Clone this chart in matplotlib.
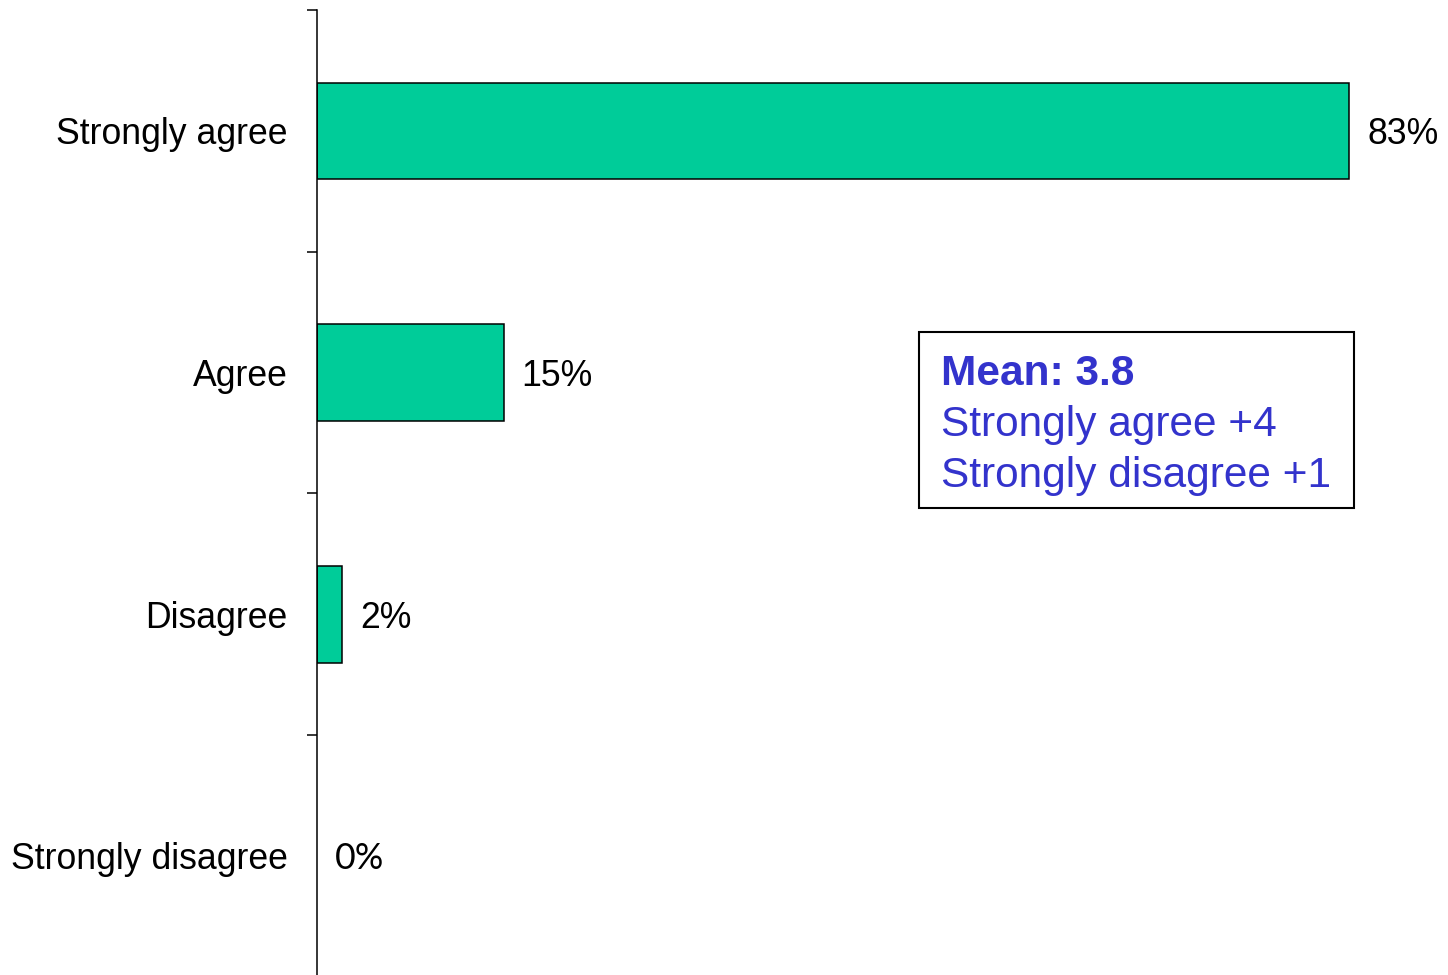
import matplotlib
matplotlib.use("Agg")
import matplotlib.pyplot as plt
from matplotlib.patches import Rectangle

categories = ["Strongly agree", "Agree", "Disagree", "Strongly disagree"]
values = [83, 15, 2, 0]
value_labels = ["83%", "15%", "2%", "0%"]
box_lines = ["Mean: 3.8", "Strongly agree +4", "Strongly disagree +1"]

BAR_COLOR = "#00CC99"
BLUE = "#3333CC"
FONT = "Liberation Sans"

W, H = 1448, 975
fig = plt.figure(figsize=(W / 100, H / 100), dpi=100)
ax = fig.add_axes([317 / W, (H - 976.7) / H, 1119 / W, 966.7 / H])

pos = list(range(len(categories)))
bars = ax.barh(pos, values, height=0.40, color=BAR_COLOR, edgecolor="black", linewidth=1.1)
for b, v in zip(bars, values):
    if v == 0:
        b.set_linewidth(0)
ax.set_ylim(len(categories) - 0.5, -0.5)
ax.set_xlim(0, 90)

# boundary ticks (major) and centred labels (minor)
ax.set_yticks([i - 0.5 for i in range(len(categories) + 1)])
ax.set_yticklabels([])
ax.set_yticks(pos, minor=True)
ax.set_yticklabels(categories, minor=True, fontsize=25.7, fontfamily=FONT)
ax.tick_params(axis="y", which="major", length=7.2, width=1.1, direction="out")
ax.tick_params(axis="y", which="minor", length=0, pad=21)
ax.set_xticks([])
for s in ["top", "right", "bottom"]:
    ax.spines[s].set_visible(False)
ax.spines["left"].set_linewidth(1.1)

for p, v, lab in zip(pos, values, value_labels):
    fam = ["Lato", FONT] if v == 0 else FONT
    ax.annotate(lab, xy=(v, p), xytext=(13, 0), textcoords="offset points",
                ha="left", va="center_baseline", fontsize=25.7, family=fam)

# mean box
x0, x1 = 919 / W, 1354 / W
y0, y1 = 1 - 508 / H, 1 - 332 / H
fig.add_artist(Rectangle((x0, y0), x1 - x0, y1 - y0, transform=fig.transFigure,
                         facecolor="white", edgecolor="black", linewidth=1.5))
baselines = [385, 436, 487]
for i, (line, b) in enumerate(zip(box_lines, baselines)):
    fig.text(941 / W, 1 - b / H, line, ha="left", va="baseline", fontsize=30.5,
             color=BLUE, family=FONT, fontweight="bold" if i == 0 else "normal")

fig.savefig("out.png", dpi=100)
